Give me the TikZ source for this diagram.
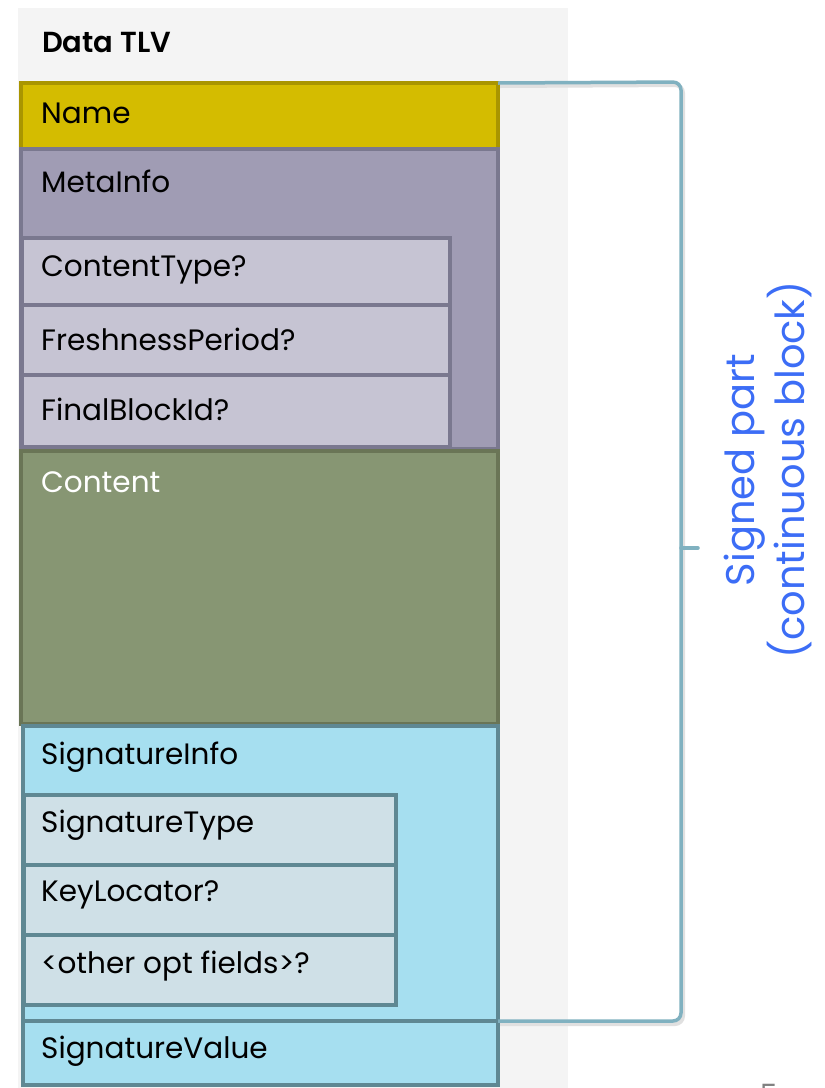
\documentclass[tikz,border=0pt]{standalone}
\usepackage{fontspec}
\setmainfont{Poppins}
\newfontfamily\semib{Poppins SemiBold}
\definecolor{bgpanel}{HTML}{F4F4F4}
\definecolor{namefill}{HTML}{D4BC00}
\definecolor{namedraw}{HTML}{A99500}
\definecolor{metafill}{HTML}{A09CB4}
\definecolor{metadraw}{HTML}{7A788F}
\definecolor{metasub}{HTML}{C6C4D3}
\definecolor{contfill}{HTML}{879673}
\definecolor{contdraw}{HTML}{6A7556}
\definecolor{sigfill}{HTML}{A6DFF0}
\definecolor{sigdraw}{HTML}{5F8893}
\definecolor{sigsub}{HTML}{CFE0E7}
\definecolor{brack}{HTML}{80B1C0}
\definecolor{bluetxt}{HTML}{3C6DF6}
\tikzset{
  fieldbox/.style={rectangle, line width=3.5pt, anchor=north west, inner sep=0pt, outer sep=0pt},
  lbl/.style={anchor=west, inner sep=0pt, font=\fontsize{29.5}{34}\selectfont, text=black},
}
\begin{document}
\begin{tikzpicture}[x=1pt,y=-1pt]
\useasboundingbox (0,0) rectangle (825,1088);
\fill[white] (0,0) rectangle (825,1088);
\fill[bgpanel] (18,8) rectangle (568,1088);
\node[anchor=west, inner sep=0pt, font=\semib\fontsize{29}{33}\selectfont] (title) at (42,43) {Data TLV};
% Name
\node[fieldbox, fill=namefill, draw=namedraw, minimum width=477pt, minimum height=66pt] (name) at (21,83) {};
\node[lbl] (namel) at (41,113) {Name};
% MetaInfo
\node[fieldbox, fill=metafill, draw=metadraw, minimum width=477pt, minimum height=300pt] (meta) at (21,149) {};
\node[lbl] (metal) at (41,181) {MetaInfo};
\node[fieldbox, fill=metasub, draw=metadraw, minimum width=428pt, minimum height=67pt] (ct) at (22,238) {};
\node[lbl] (ctl) at (41,270) {ContentType?};
\node[fieldbox, fill=metasub, draw=metadraw, minimum width=428pt, minimum height=70pt] (fp) at (22,305) {};
\node[lbl] (fpl) at (41,339) {FreshnessPeriod?};
\node[fieldbox, fill=metasub, draw=metadraw, minimum width=428pt, minimum height=72pt] (fb) at (22,375) {};
\node[lbl] (fbl) at (41,409) {FinalBlockId?};
% Content
\node[fieldbox, fill=contfill, draw=contdraw, minimum width=477pt, minimum height=273pt] (content) at (21,451) {};
\node[lbl, text=white] (contentl) at (41,482) {Content};
% SignatureInfo
\node[fieldbox, fill=sigfill, draw=sigdraw, minimum width=475pt, minimum height=295pt] (sinfo) at (23,726) {};
\node[lbl] (sinfol) at (41,757) {SignatureInfo};
\node[fieldbox, fill=sigsub, draw=sigdraw, minimum width=372pt, minimum height=70pt] (st) at (24,795) {};
\node[lbl] (stl) at (41,825) {SignatureType};
\node[fieldbox, fill=sigsub, draw=sigdraw, minimum width=372pt, minimum height=70pt] (kl) at (24,865) {};
\node[lbl] (kll) at (41,895) {KeyLocator?};
\node[fieldbox, fill=sigsub, draw=sigdraw, minimum width=372pt, minimum height=70pt] (of) at (24,935) {};
\node[lbl] (ofl) at (41,966) {<other opt fields>?};
% SignatureValue
\node[fieldbox, fill=sigfill, draw=sigdraw, minimum width=475pt, minimum height=64pt] (sval) at (23,1021) {};
\node[lbl] (svall) at (41,1051) {SignatureValue};
% bracket
\coordinate (bt) at (681,82);
\coordinate (bb) at (681,1021);
\coordinate (bm) at (681,548);
\coordinate (tip) at (698,548);
\draw[black!12, line width=4pt, rounded corners=8pt, transform canvas={shift={(2pt,-3pt)}}] (name.north east) -- (bt) -- (bb) -- (sval.north east);
\draw[brack, line width=3.5pt, rounded corners=8pt] (name.north east) -- (bt) -- (bb) -- (sval.north east);
\draw[brack, line width=3.5pt, line cap=round] (bm) -- (tip);
\node[rotate=90, align=center, text=bluetxt, inner sep=0pt, font=\fontsize{40}{50}\selectfont] (signed) at (768,470) {Signed part\\(continuous block)};
\node[anchor=base west, inner sep=0pt, text=black!50, font=\fontsize{28}{32}\selectfont] (pg) at (760,1104) {5};
\end{tikzpicture}
\end{document}
